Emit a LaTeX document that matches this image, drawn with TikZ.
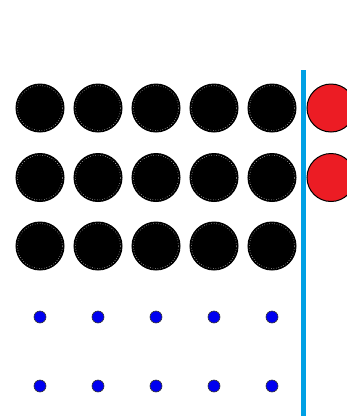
\documentclass[tikz,border=0pt]{standalone}
\usetikzlibrary{positioning}
\definecolor{barblue}{RGB}{0,160,228}
\definecolor{dotblue}{RGB}{0,0,240}
\definecolor{ballred}{RGB}{236,28,36}

\begin{document}
\begin{tikzpicture}[
  x=1pt, y=-1pt,
  ball/.style={circle, draw=black, fill=black, line width=1pt, minimum size=48pt, inner sep=0pt},
  redball/.style={ball, fill=ballred},
  ring/.style={circle, draw=white, dotted, line width=0.5pt, minimum size=45pt, inner sep=0pt},
  dot/.style={circle, draw=black!80, fill=dotblue, line width=0.6pt, minimum size=12pt, inner sep=0pt},
  bar/.style={draw=barblue, line width=5pt}
]
\useasboundingbox (0,0) rectangle (347,416);

% black balls
\foreach \r [count=\j] in {108,177.5,246} {
  \foreach \c [count=\i] in {40,98,156,214,272} {
    \node[ball] (b-\j-\i) at (\c,\r) {};
    \node[ring] at (b-\j-\i) {};
  }
}

% red balls beyond the bar
\node[redball] (r-1) at (331,108) {};
\node[redball] (r-2) at (331,177.5) {};

% blue dots
\foreach \r [count=\j] in {317,386} {
  \foreach \c [count=\i] in {40,98,156,214,272} {
    \node[dot] (d-\j-\i) at (\c,\r) {};
  }
}

% the bar
\coordinate (top) at (303,70);
\coordinate (bottom) at (303,416);
\draw[bar] (top) -- (bottom);

\end{tikzpicture}
\end{document}
